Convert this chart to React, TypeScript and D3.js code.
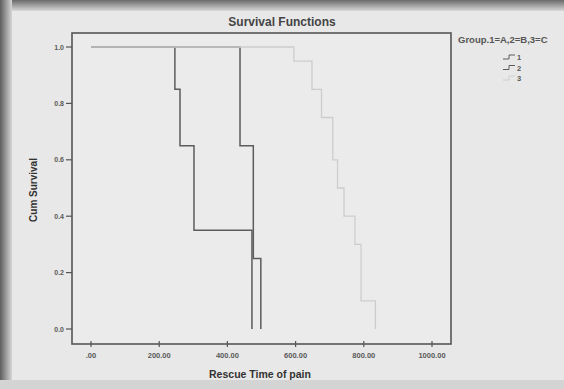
import { useEffect, useRef } from 'react';
import * as d3 from 'd3';

// event times and cumulative survival after each event
const timesA = [246, 261, 302, 472];
const survA = [0.85, 0.65, 0.35, 0.0];
const timesB = [437, 476, 498];
const survB = [0.65, 0.25, 0.0];
const timesC = [595, 648, 676, 709, 723, 742, 774, 792, 834];
const survC = [0.95, 0.85, 0.75, 0.6, 0.5, 0.4, 0.3, 0.1, 0.0];

const groupNames = ['1', '2', '3'];
const xTicks = [0, 200, 400, 600, 800, 1000];
const xTickLabels = ['.00', '200.00', '400.00', '600.00', '800.00', '1000.00'];
const yTicks = [0, 0.2, 0.4, 0.6, 0.8, 1.0];
const yTickLabels = ['0.0', '0.2', '0.4', '0.6', '0.8', '1.0'];

const W = 564;
const H = 389;

export default function App() {
  const svgRef = useRef<SVGSVGElement | null>(null);

  useEffect(() => {
    if (!svgRef.current) return;
    const svg = d3.select(svgRef.current);
    svg.selectAll('*').remove();

    const font = 'Liberation Sans, Arial, sans-serif';

    // photo-ish backdrop
    const defs = svg.append('defs');
    const gl = defs.append('linearGradient').attr('id', 'gl').attr('x1', 0).attr('x2', 1);
    gl.append('stop').attr('offset', 0).attr('stop-color', '#5e5e5e');
    gl.append('stop').attr('offset', 1).attr('stop-color', '#d6d6d6');
    const gt = defs.append('linearGradient').attr('id', 'gt').attr('x1', 0).attr('x2', 0).attr('y1', 0).attr('y2', 1);
    gt.append('stop').attr('offset', 0).attr('stop-color', '#6a6a6a');
    gt.append('stop').attr('offset', 1).attr('stop-color', '#d8d8d8');

    svg.append('rect').attr('width', W).attr('height', H).attr('fill', '#e8e8e8');
    svg.append('rect').attr('width', W).attr('height', 11).attr('fill', 'url(#gt)');
    svg.append('rect').attr('width', 12).attr('height', H).attr('fill', 'url(#gl)');
    svg.append('rect').attr('y', 380).attr('width', W).attr('height', 9).attr('fill', '#d4d4d4');

    const frame = { left: 72, top: 33, right: 451, bottom: 344 };
    const x = d3.scaleLinear().domain([0, 1000]).range([91, 432]);
    const y = d3.scaleLinear().domain([0, 1]).range([329, 47]);

    svg.append('rect')
      .attr('x', frame.left).attr('y', frame.top)
      .attr('width', frame.right - frame.left).attr('height', frame.bottom - frame.top)
      .attr('fill', '#ebebeb')
      .attr('stroke', '#555').attr('stroke-width', 1.6);

    // title
    svg.append('text')
      .attr('x', 282).attr('y', 26)
      .attr('text-anchor', 'middle')
      .attr('font-family', font).attr('font-weight', 'bold').attr('font-size', 12)
      .attr('fill', '#444')
      .text('Survival Functions');

    // y axis ticks
    const yg = svg.append('g');
    yTicks.forEach((t, i) => {
      yg.append('line')
        .attr('x1', frame.left - 6).attr('x2', frame.left)
        .attr('y1', y(t)).attr('y2', y(t))
        .attr('stroke', '#555').attr('stroke-width', 1.2);
      yg.append('text')
        .attr('x', frame.left - 8).attr('y', y(t) + 2.5)
        .attr('text-anchor', 'end')
        .attr('font-family', font).attr('font-size', 7).attr('font-weight', 'bold')
        .attr('fill', '#5a5a5a')
        .text(yTickLabels[i]);
    });

    // x axis ticks
    const xg = svg.append('g');
    xTicks.forEach((t, i) => {
      xg.append('line')
        .attr('x1', x(t)).attr('x2', x(t))
        .attr('y1', frame.bottom - 3).attr('y2', frame.bottom + 3)
        .attr('stroke', '#555').attr('stroke-width', 1.2);
      xg.append('text')
        .attr('x', x(t)).attr('y', frame.bottom + 14)
        .attr('text-anchor', 'middle')
        .attr('font-family', font).attr('font-size', 7.5).attr('font-weight', 'bold')
        .attr('fill', '#5a5a5a')
        .text(xTickLabels[i]);
    });

    // axis titles
    svg.append('text')
      .attr('x', 260).attr('y', 378)
      .attr('text-anchor', 'middle')
      .attr('font-family', font).attr('font-weight', 'bold').attr('font-size', 10.5)
      .attr('fill', '#333')
      .text('Rescue Time of pain');
    svg.append('text')
      .attr('transform', 'translate(37,190) rotate(-90)')
      .attr('text-anchor', 'middle')
      .attr('font-family', font).attr('font-weight', 'bold').attr('font-size', 10)
      .attr('fill', '#333')
      .text('Cum Survival');

    // survival curves
    const line = d3.line<[number, number]>()
      .x(d => x(d[0]))
      .y(d => y(d[1]))
      .curve(d3.curveStepAfter);

    const groups = [
      { times: timesA, surv: survA, color: '#5c5c5c', width: 1.5 },
      { times: timesB, surv: survB, color: '#5c5c5c', width: 1.5 },
      { times: timesC, surv: survC, color: '#cdcdcd', width: 1.3 },
    ];

    groups.forEach(gr => {
      const pts: [number, number][] = [[0, 1]];
      gr.times.forEach((t, i) => pts.push([t, gr.surv[i]]));
      svg.append('path')
        .attr('d', line(pts))
        .attr('fill', 'none')
        .attr('stroke', gr.color)
        .attr('stroke-width', gr.width);
    });

    // legend
    svg.append('text')
      .attr('x', 458).attr('y', 43)
      .attr('font-family', font).attr('font-size', 9.5).attr('font-weight', 'bold')
      .attr('fill', '#555')
      .text('Group.1=A,2=B,3=C');

    groupNames.forEach((name, i) => {
      const ly = 58 + i * 10.5;
      svg.append('path')
        .attr('d', `M503,${ly + 1}H509V${ly - 3}H515`)
        .attr('fill', 'none')
        .attr('stroke', groups[i].color)
        .attr('stroke-width', 1);
      svg.append('text')
        .attr('x', 517).attr('y', ly + 2)
        .attr('font-family', font).attr('font-size', 7.5).attr('font-weight', 'bold')
        .attr('fill', '#5a5a5a')
        .text(name);
    });
  }, []);

  return (
    <>
      <style>{'body{margin:0}'}</style>
      <svg ref={svgRef} width={W} height={H} style={{ display: 'block' }}></svg>
    </>
  );
}
